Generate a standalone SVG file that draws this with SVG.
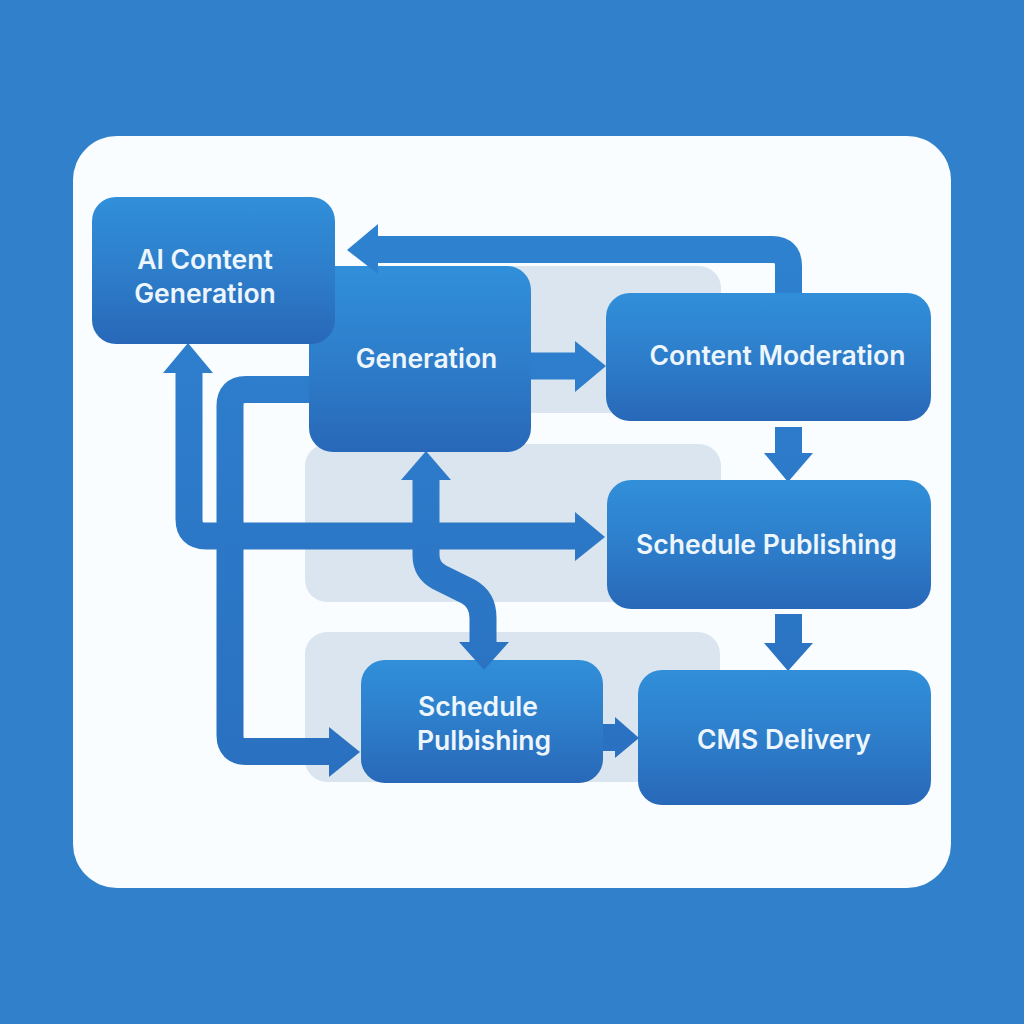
<svg xmlns="http://www.w3.org/2000/svg" width="1024" height="1024" viewBox="0 0 1024 1024">
<defs>
<linearGradient id="nodeFill" x1="0" y1="0" x2="0" y2="1">
<stop offset="0" stop-color="#318fd9"/>
<stop offset="0.55" stop-color="#2d7cc9"/>
<stop offset="1" stop-color="#2868b8"/>
</linearGradient>
<linearGradient id="wireFill" gradientUnits="userSpaceOnUse" x1="0" y1="230" x2="0" y2="780">
<stop offset="0" stop-color="#2e82d0"/>
<stop offset="1" stop-color="#2a70c0"/>
</linearGradient>
</defs>
<style>
.node{fill:url(#nodeFill)}
.band{fill:#dbe5ef}
.wire{fill:none;stroke:url(#wireFill);stroke-width:27}
.head{fill:url(#wireFill)}
.label{font-family:Inter,"Liberation Sans",Arial,sans-serif;font-size:26.500px;font-weight:600;fill:#eef6fd;text-anchor:middle}
</style>
<rect width="1024" height="1024" fill="#3180cb"/>
<rect x="73" y="136" width="878" height="752" rx="44" fill="#f9fdff"/>
<g id="bands">
<rect class="band" x="400" y="266" width="321" height="147" rx="22"/>
<rect class="band" x="305" y="444" width="416" height="158" rx="22"/>
<rect class="band" x="305" y="632" width="415" height="150" rx="22"/>
</g>
<g id="connectors">
<path class="wire" d="M788.500 296V266Q788.500 249.500 772 249.500H375"/>
<path class="wire" d="M189 371V519Q189 536 206 536H580"/>
<polygon class="head" points="188,343 213,373 163,373"/>
<polygon class="head" points="605,537 575,512 575,561"/>
<path class="wire" d="M315 389.500H246Q230 389.500 230 406V735Q230 751.500 246 751.500H332"/>
<polygon class="head" points="360,752 329,727 329,777"/>
<path class="wire" d="M426 478V555Q426 570 439 577L469 592Q483 600 483 618V645"/>
<polygon class="head" points="426,451 451,480 401,480"/>
<path class="wire" d="M525 366H580"/>
<polygon class="head" points="606,366 575,341 575,392"/>
<path class="wire" d="M788.500 427V455"/>
<polygon class="head" points="788,482 764,453 813,453"/>
<path class="wire" d="M788.500 614V645"/>
<polygon class="head" points="788,671 764,643 813,643"/>
<path class="wire" d="M600 737.500H618"/>
</g>
<g id="node-generation-mid"><rect class="node" x="309" y="266" width="222" height="186" rx="24"/><text class="label" x="426.500" y="368">Generation</text></g>
<g id="node-ai-content"><rect class="node" x="92" y="197" width="243" height="147" rx="24"/><text class="label" x="205" y="269">AI Content</text><text class="label" x="205" y="303">Generation</text></g>
<g id="node-moderation"><rect class="node" x="606" y="293" width="325" height="128" rx="24"/><text class="label" x="777.500" y="365">Content Moderation</text></g>
<g id="node-schedule-right"><rect class="node" x="607" y="480" width="324" height="129" rx="24"/><text class="label" x="766.500" y="554">Schedule Publishing</text></g>
<g id="node-schedule-left"><rect class="node" x="361" y="660" width="242" height="123" rx="24"/><text class="label" x="478" y="716">Schedule</text><text class="label" x="484" y="750">Pulbishing</text></g>
<g id="node-cms"><rect class="node" x="638" y="670" width="293" height="135" rx="24"/><text class="label" x="784" y="749">CMS Delivery</text></g>
<g id="connector-heads-over-nodes">
<polygon class="head" points="347,250 378,224 378,274"/>
<polygon class="head" points="484,670 459,642 509,642"/>
<polygon class="head" points="639,738 615,717 615,758"/>
</g>
</svg>
